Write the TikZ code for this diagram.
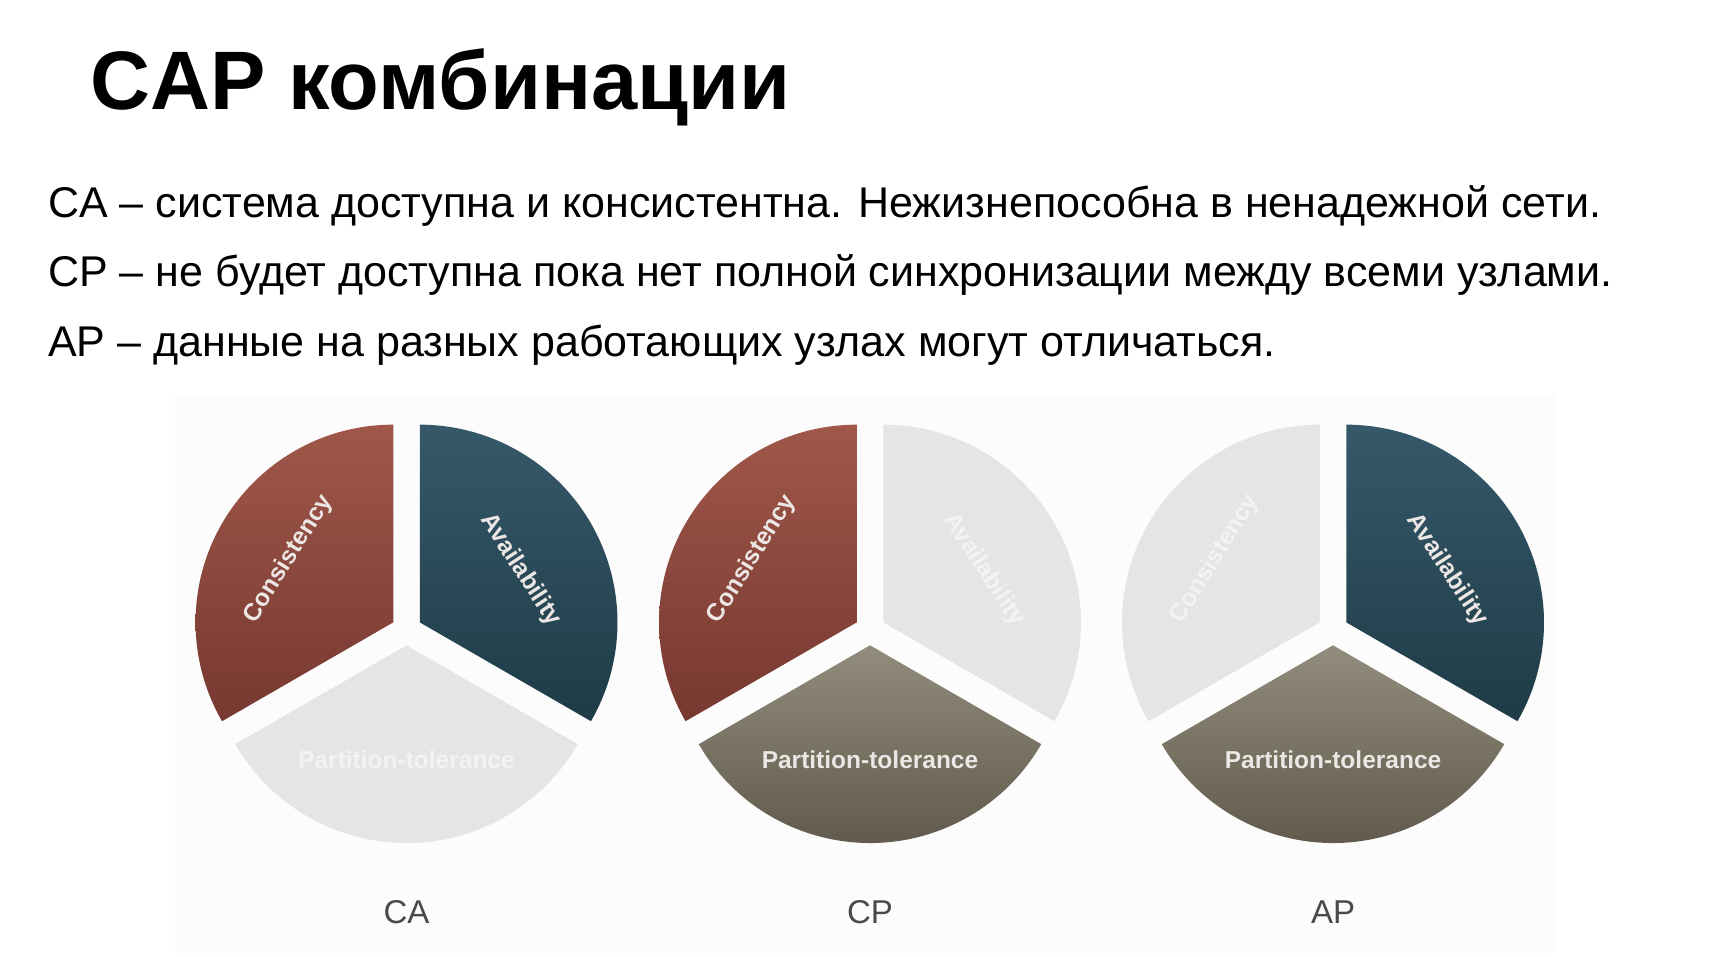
\documentclass[tikz,border=0pt]{standalone}
\usepackage{fontspec}
\setmainfont{Liberation Sans}
\usetikzlibrary{positioning}
\definecolor{capRedTop}{HTML}{A0574A}
\definecolor{capRedBot}{HTML}{763830}
\definecolor{capTealTop}{HTML}{36596A}
\definecolor{capTealBot}{HTML}{1E3B46}
\definecolor{capOliveTop}{HTML}{918C7B}
\definecolor{capOliveBot}{HTML}{5B5447}
\definecolor{capOff}{HTML}{E5E5E6}
\definecolor{capOffWord}{HTML}{F3F3F3}
\definecolor{capWord}{HTML}{ECE6E4}
\definecolor{capBack}{HTML}{FCFCFC}
\definecolor{capTagGray}{HTML}{4A4A4A}
\tikzset{
  % wedge fills, lit and switched off
  capCons/.style={top color=capRedTop, bottom color=capRedBot},
  capAvail/.style={top color=capTealTop, bottom color=capTealBot},
  capPart/.style={top color=capOliveTop, bottom color=capOliveBot},
  capOff/.style={fill=capOff},
  % words inside the wedges
  capWordOn/.style={font=\fontsize{24.5}{24.5}\selectfont\bfseries, text=capWord, inner sep=0pt},
  capWordOff/.style={capWordOn, text=capOffWord},
  % slide text
  capBody/.style={font=\fontsize{43}{48}\selectfont, anchor=base west, inner sep=0pt},
  capTag/.style={font=\fontsize{33}{33}\selectfont, text=capTagGray, anchor=base, inner sep=0pt},
}
\begin{document}
\begin{tikzpicture}[x=1pt,y=1pt]
  \useasboundingbox (0,0) rectangle (1718,-956);
  \fill[white] (0,0) rectangle (1718,-956);
  \fill[capBack] (175,-394) rectangle (1556,-953);
  \node[font=\fontsize{83}{83}\selectfont\bfseries, anchor=base west, inner sep=0pt] (title) at (90,-109.6) {CAP комбинации};
  \node[capBody] (lineCA) at (48,-217) {CA – система доступна и консистентна. Нежизнепособна в ненадежной сети.};
  \node[capBody] (lineCP) at (48,-286) {CP – не будет доступна пока нет полной синхронизации между всеми узлами.};
  \node[capBody] (lineAP) at (48,-356) {AP – данные на разных работающих узлах могут отличаться.};
  \foreach \cx/\lab/\cst/\ast/\pst/\cw/\aw/\pw in {
      406.5/CA/capCons/capAvail/capOff/capWordOn/capWordOn/capWordOff,
      870/CP/capCons/capOff/capPart/capWordOn/capWordOff/capWordOn,
      1333/AP/capOff/capAvail/capPart/capWordOff/capWordOn/capWordOn}{
    \begin{scope}[shift={(\cx,-630)}]
      \path[\cst] (150:15.3) -- ++(90:197.7) arc[start angle=90, end angle=210, radius=197.7] -- cycle;
      \path[\ast] (30:15.3) -- ++(-30:197.7) arc[start angle=-30, end angle=90, radius=197.7] -- cycle;
      \path[\pst] (270:15.3) -- ++(210:197.7) arc[start angle=210, end angle=330, radius=197.7] -- cycle;
    \end{scope}
    \node[\cw, rotate=58] (cons\lab) at ({\cx-118},-559) {Consistency};
    \node[\aw, rotate=-57] (avail\lab) at ({\cx+114},-570) {Availability};
    \node[\pw] (part\lab) at (\cx,-760) {Partition-tolerance};
    \node[capTag] (tag\lab) at (\cx,-923) {\lab};
  }
\end{tikzpicture}
\end{document}
